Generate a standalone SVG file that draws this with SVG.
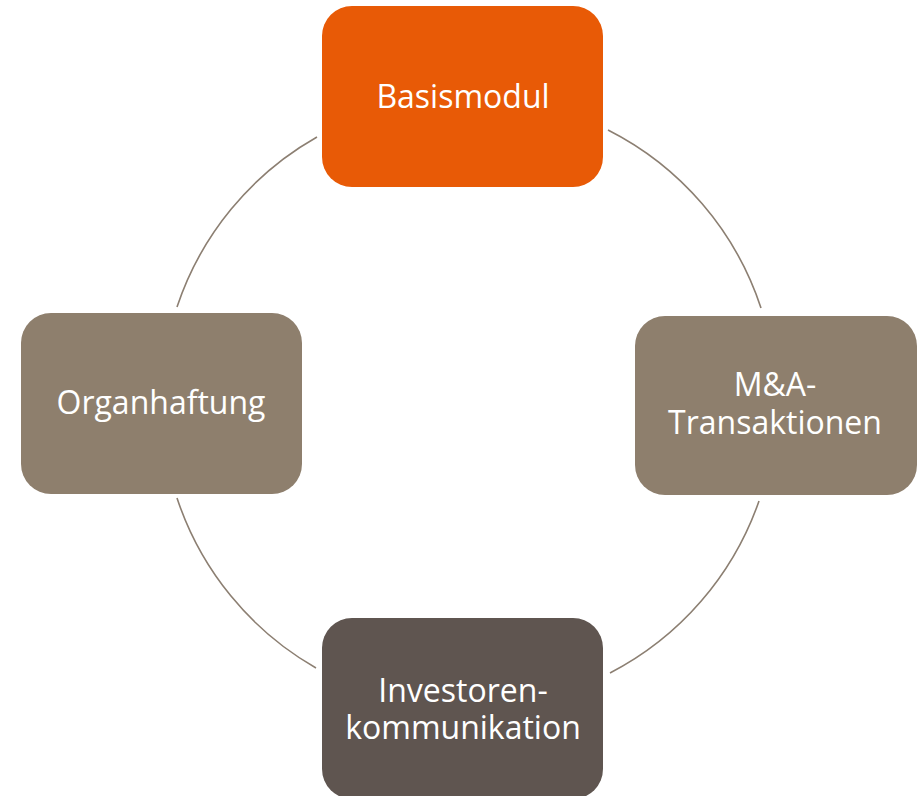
<svg xmlns="http://www.w3.org/2000/svg" width="923" height="796" viewBox="0 0 923 796">
<style>
.arc{fill:none;stroke:#8C7F72;stroke-width:1.6}
.box{stroke:none}
.t{font-family:"Open Sans","Liberation Sans",sans-serif;font-size:32px;fill:#ffffff;text-anchor:middle}
</style>
<rect width="923" height="796" fill="#ffffff"/>
<g id="connectors">
<path class="arc" d="M608,130 A307,307 0 0 1 761,308"/>
<path class="arc" d="M759,501 A307,307 0 0 1 610,673"/>
<path class="arc" d="M316,668 A307,307 0 0 1 177,498"/>
<path class="arc" d="M177,307 A307,307 0 0 1 317,137"/>
</g>
<g id="basismodul">
<rect class="box" x="322" y="6" width="281" height="181" rx="30" fill="#E85A06"/>
<text class="t" x="463" y="108">Basismodul</text>
</g>
<g id="ma-transaktionen">
<rect class="box" x="635" y="316" width="282" height="179" rx="30" fill="#8E7F6D"/>
<text class="t" x="775" y="396">M&amp;A-</text>
<text class="t" x="775" y="434">Transaktionen</text>
</g>
<g id="investorenkommunikation">
<rect class="box" x="322" y="618" width="281" height="181" rx="30" fill="#5F5550"/>
<text class="t" x="463" y="702">Investoren-</text>
<text class="t" x="463" y="739">kommunikation</text>
</g>
<g id="organhaftung">
<rect class="box" x="21" y="313" width="281" height="181" rx="30" fill="#8E7F6D"/>
<text class="t" x="161" y="414">Organhaftung</text>
</g>
</svg>
